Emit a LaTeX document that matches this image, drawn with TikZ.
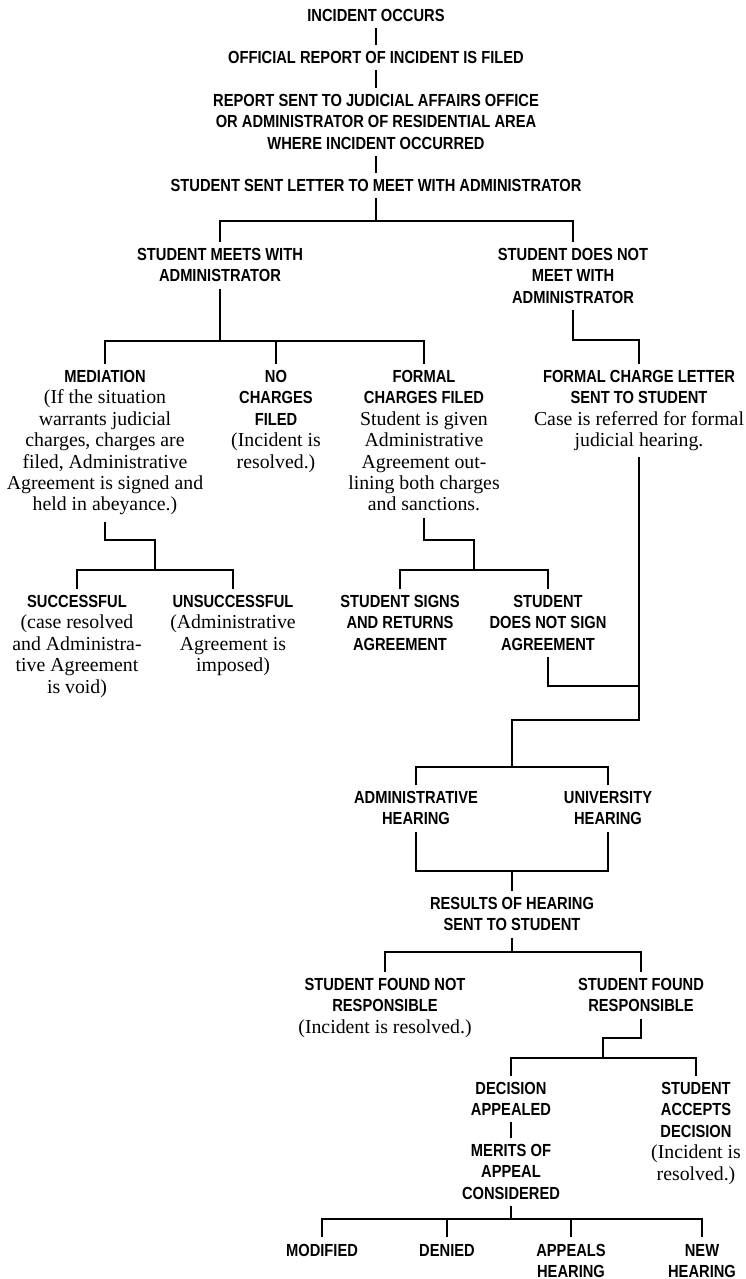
\documentclass[tikz,border=0pt]{standalone}
\usepackage{fontspec}
\newfontfamily\hdfont[FakeStretch=0.84]{Liberation Sans}
\newfontfamily\srfont{Liberation Serif}
\newcommand\sr[1]{{\srfont\mdseries\fontsize{19.8}{21.4}\selectfont #1}}
\begin{document}
\begin{tikzpicture}[x=1pt,y=-1pt,line width=1.1pt,
  box/.style={anchor=north,align=center,inner xsep=0pt,inner ysep=6pt,
    font=\hdfont\bfseries\fontsize{17.5}{21.4}\selectfont}]
\useasboundingbox (0,0) rectangle (746,1279);
% nodes
\node[box] (inc) at (376,2.7) {INCIDENT OCCURS};
\node[box] (off) at (376,44.7) {OFFICIAL REPORT OF INCIDENT IS FILED};
\node[box] (rep) at (376,87.7) {REPORT SENT TO JUDICIAL AFFAIRS OFFICE\\OR ADMINISTRATOR OF RESIDENTIAL AREA\\WHERE INCIDENT OCCURRED};
\node[box] (let) at (376,172.7) {STUDENT SENT LETTER TO MEET WITH ADMINISTRATOR};
\node[box] (meet) at (220,241.7) {STUDENT MEETS WITH\\ADMINISTRATOR};
\node[box] (nomeet) at (573,241.7) {STUDENT DOES NOT\\MEET WITH\\ADMINISTRATOR};
\node[box] (med) at (105,363.7) {MEDIATION\\\sr{(If the situation}\\\sr{warrants judicial}\\\sr{charges, charges are}\\\sr{filed, Administrative}\\\sr{Agreement is signed and}\\\sr{held in abeyance.)}};
\node[box] (noch) at (276,363.7) {NO\\CHARGES\\FILED\\\sr{(Incident is}\\\sr{resolved.)}};
\node[box] (formal) at (424,363.7) {FORMAL\\CHARGES FILED\\\sr{Student is given}\\\sr{Administrative}\\\sr{Agreement out-}\\\sr{lining both charges}\\\sr{and sanctions.}};
\node[box] (fcl) at (639,363.7) {FORMAL CHARGE LETTER\\SENT TO STUDENT\\\sr{Case is referred for formal}\\\sr{judicial hearing.}};
\node[box] (succ) at (77,588.7) {SUCCESSFUL\\\sr{(case resolved}\\\sr{and Administra-}\\\sr{tive Agreement}\\\sr{is void)}};
\node[box] (unsucc) at (233,588.7) {UNSUCCESSFUL\\\sr{(Administrative}\\\sr{Agreement is}\\\sr{imposed)}};
\node[box] (signs) at (400,588.7) {STUDENT SIGNS\\AND RETURNS\\AGREEMENT};
\node[box] (nosign) at (548,588.7) {STUDENT\\DOES NOT SIGN\\AGREEMENT};
\node[box] (admh) at (416,784.7) {ADMINISTRATIVE\\HEARING};
\node[box] (univh) at (608,784.7) {UNIVERSITY\\HEARING};
\node[box] (results) at (512,890.7) {RESULTS OF HEARING\\SENT TO STUDENT};
\node[box] (notresp) at (385,971.7) {STUDENT FOUND NOT\\RESPONSIBLE\\\sr{(Incident is resolved.)}};
\node[box] (resp) at (641,971.7) {STUDENT FOUND\\RESPONSIBLE};
\node[box] (appealed) at (511,1075.7) {DECISION\\APPEALED};
\node[box] (accepts) at (696,1075.7) {STUDENT\\ACCEPTS\\DECISION\\\sr{(Incident is}\\\sr{resolved.)}};
\node[box] (merits) at (511,1137.7) {MERITS OF\\APPEAL\\CONSIDERED};
\node[box] (modified) at (322,1237.4) {MODIFIED};
\node[box] (denied) at (447,1237.4) {DENIED};
\node[box] (appeals) at (571,1237.4) {APPEALS\\HEARING};
\node[box] (newh) at (702,1237.4) {NEW\\HEARING};
% junction points
\coordinate (b1) at (376,221);
\coordinate (b2) at (220,341);
\coordinate (k1) at (600,340);
\coordinate (m1) at (155,540);
\coordinate (m2) at (155,570);
\coordinate (f1) at (474,540);
\coordinate (f2) at (474,570);
\coordinate (j1) at (639,686);
\coordinate (j2) at (639,720);
\coordinate (h1) at (512,767);
\coordinate (h2) at (512,871);
\coordinate (r1) at (512,952);
\coordinate (s1) at (603,1038);
\coordinate (s2) at (603,1058);
\coordinate (t1) at (511,1219);
% connectors
\draw (inc.south) -- (off.north);
\draw (off.south) -- (rep.north);
\draw (rep.south) -- (let.north);
\draw (let.south) -- (b1);
\draw (meet.north) |- (b1) -| (nomeet.north);
\draw (meet.south) -- (b2);
\draw (med.north) |- (b2) -| (formal.north);
\draw (noch.north) -- (noch.north |- b2);
\draw (nomeet.south) |- (k1) -| (fcl.north);
\draw (med.south) |- (m1) -- (m2);
\draw (succ.north) |- (m2) -| (unsucc.north);
\draw (formal.south) |- (f1) -- (f2);
\draw (signs.north) |- (f2) -| (nosign.north);
\draw (fcl.south) -- (j2) -| (h1);
\draw (nosign.south) |- (j1);
\draw (admh.north) |- (h1) -| (univh.north);
\draw (admh.south) |- (h2) -| (univh.south);
\draw (h2) -- (results.north);
\draw (results.south) -- (r1);
\draw (notresp.north) |- (r1) -| (resp.north);
\draw (resp.south) |- (s1) -- (s2);
\draw (appealed.north) |- (s2) -| (accepts.north);
\draw (appealed.south) -- (merits.north);
\draw (merits.south) -- (t1);
\draw (modified.north) |- (t1) -| (newh.north);
\draw (denied.north) -- (denied.north |- t1);
\draw (appeals.north) -- (appeals.north |- t1);
\end{tikzpicture}
\end{document}
